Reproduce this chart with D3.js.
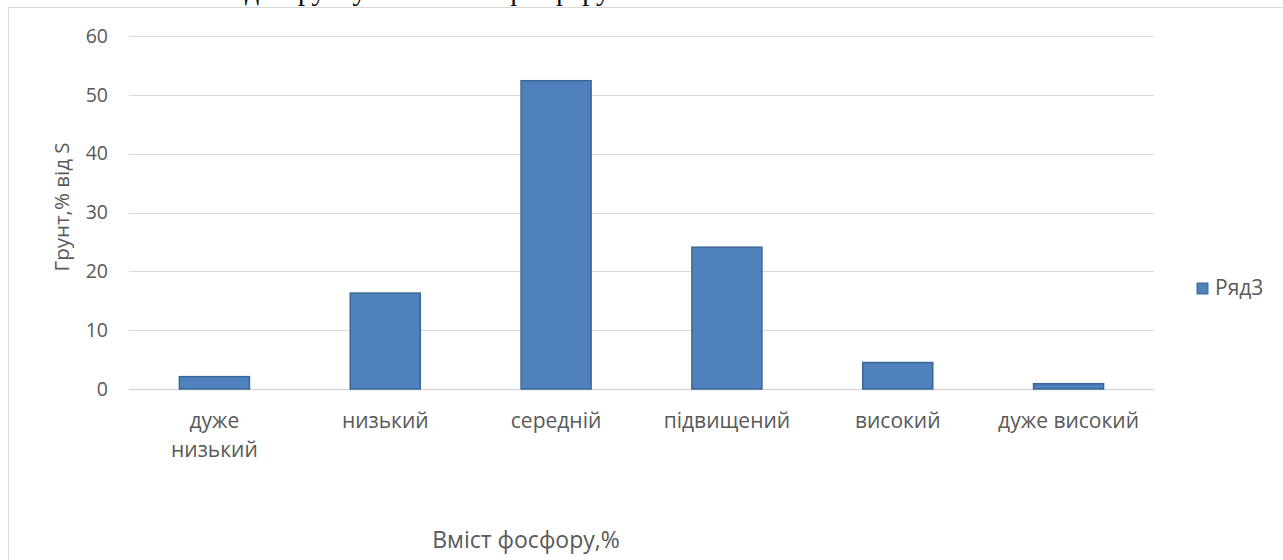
<!DOCTYPE html>
<html>
<head>
<meta charset="utf-8">
<script src="https://cdn.jsdelivr.net/npm/d3@7/dist/d3.min.js"></script>
<style>
  html, body { margin: 0; padding: 0; background: #fff; }
  svg { display: block; }
  text { font-family: "Open Sans", "Noto Sans", sans-serif; fill: #595959; }
</style>
</head>
<body>
<svg id="chart" width="1283" height="560"></svg>
<script>
// Phosphorus content classes and share of soil area (%)
const categories = [["дуже", "низький"], ["низький"], ["середній"], ["підвищений"], ["високий"], ["дуже високий"]];
const values = [2.1, 16.3, 52.4, 24.1, 4.5, 0.9];
const yTicks = [0, 10, 20, 30, 40, 50, 60];
const seriesName = "Ряд3";
const xTitle = "Вміст фосфору,%";
const yTitle = "Грунт,% від S";
const pageTitle = "Розподіл ґрунту за вмістом фосфору";

const svg = d3.select("#chart");
const plot = { left: 129, right: 1154, top: 36, bottom: 389 };

// heading line of the surrounding document, sitting above the chart frame
svg.append("text")
  .attr("x", 610).attr("y", 0)
  .attr("text-anchor", "end")
  .style("font-family", "'Liberation Serif', 'Times New Roman', serif")
  .style("font-size", "28px")
  .style("fill", "#000")
  .text(pageTitle);

// chart frame
svg.append("rect")
  .attr("x", 8.5).attr("y", 7.5)
  .attr("width", 1290).attr("height", 600)
  .attr("fill", "#fff").attr("stroke", "#d9d9d9").attr("stroke-width", 1);

const x = d3.scaleBand()
  .domain(d3.range(categories.length))
  .range([plot.left, plot.right])
  .padding(0);

const y = d3.scaleLinear()
  .domain([0, 60])
  .range([plot.bottom, plot.top]);

// horizontal gridlines
svg.append("g")
  .selectAll("line")
  .data(yTicks)
  .join("line")
  .attr("x1", plot.left).attr("x2", plot.right)
  .attr("y1", d => Math.round(y(d)) + 0.5).attr("y2", d => Math.round(y(d)) + 0.5)
  .attr("stroke", "#d9d9d9").attr("stroke-width", d => d === 0 ? 1.5 : 1);

// y axis tick labels
const yAxis = d3.axisLeft(y).tickValues(yTicks).tickSize(0).tickPadding(21);
svg.append("g")
  .attr("transform", `translate(${plot.left},0)`)
  .call(yAxis)
  .call(g => g.select(".domain").remove())
  .call(g => g.selectAll("text")
    .style("font-size", "19.5px")
    .attr("fill", "#595959")
    .attr("font-family", null));

// bars
const barW = x.bandwidth() * 0.41;
svg.append("g")
  .selectAll("rect")
  .data(values)
  .join("rect")
  .attr("x", (d, i) => x(i) + (x.bandwidth() - barW) / 2)
  .attr("y", d => y(d))
  .attr("width", barW)
  .attr("height", d => y(0) - y(d))
  .attr("fill", "#4f81bd")
  .attr("stroke", "#3a6799")
  .attr("stroke-width", 1.5);

// category labels
const catG = svg.append("g");
categories.forEach((lines, i) => {
  const t = catG.append("text")
    .attr("x", x(i) + x.bandwidth() / 2)
    .attr("y", 428)
    .attr("text-anchor", "middle")
    .style("font-size", "21px");
  lines.forEach((ln, k) => {
    t.append("tspan")
      .attr("x", x(i) + x.bandwidth() / 2)
      .attr("dy", k === 0 ? 0 : 29)
      .text(ln);
  });
});

// axis titles
svg.append("text")
  .attr("x", 526).attr("y", 548)
  .attr("text-anchor", "middle")
  .style("font-size", "23px")
  .text(xTitle);

svg.append("text")
  .attr("transform", "translate(69,207) rotate(-90)")
  .attr("text-anchor", "middle")
  .style("font-size", "20.5px")
  .text(yTitle);

// legend
const lg = svg.append("g").attr("transform", "translate(1197,283)");
lg.append("rect")
  .attr("width", 11).attr("height", 11)
  .attr("fill", "#4f81bd").attr("stroke", "#3a6799").attr("stroke-width", 1);
lg.append("text")
  .attr("x", 18).attr("y", 12)
  .style("font-size", "21px")
  .text(seriesName);
</script>
</body>
</html>
